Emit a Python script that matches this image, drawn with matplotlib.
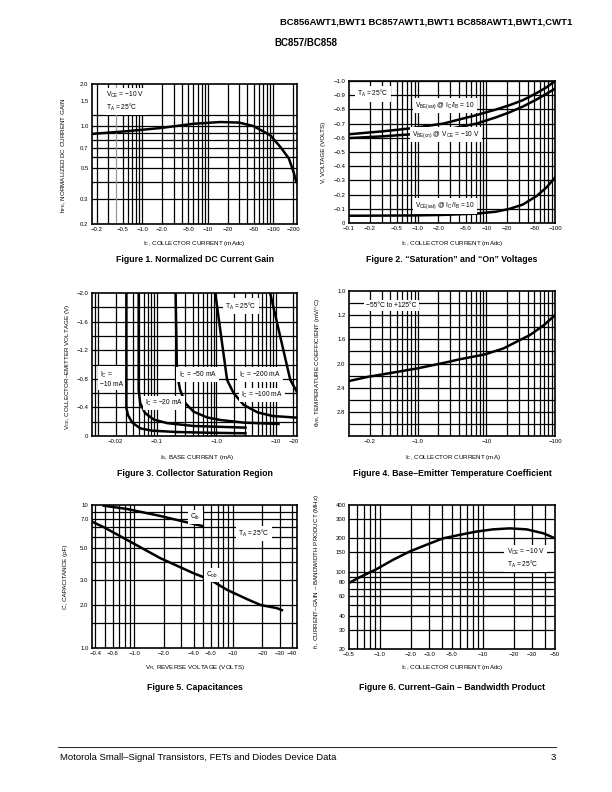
import matplotlib
matplotlib.use('Agg')
import matplotlib.pyplot as plt
from matplotlib.ticker import NullFormatter

plt.rcParams['font.family'] = ['Liberation Sans', 'DejaVu Sans']
plt.rcParams['mathtext.fontset'] = 'custom'
plt.rcParams['mathtext.rm'] = 'Liberation Sans'
plt.rcParams['mathtext.it'] = 'Liberation Sans:italic'
plt.rcParams['mathtext.bf'] = 'Liberation Sans:bold'

M = '\u2212'

# ---- Figure 1: normalized DC current gain (IC magnitude in mA)
f1_ic = [0.17, 0.58, 1.9, 6.1, 15.5, 30, 50, 90, 128, 172, 204, 224]
f1_hfe = [0.88, 0.92, 0.97, 1.04, 1.07, 1.06, 1.0, 0.86, 0.71, 0.59, 0.47, 0.40]
f1_xticks = [0.2, 0.5, 1, 2, 5, 10, 20, 50, 100, 200]
f1_xlabels = [M + s for s in ['0.2', '0.5', '1.0', '2.0', '5.0', '10', '20', '50', '100', '200']]
f1_yticks = [0.2, 0.3, 0.5, 0.7, 1.0, 1.5, 2.0]
f1_ylabels = ['0.2', '0.3', '0.5', '0.7', '1.0', '1.5', '2.0']

# ---- Figure 2: saturation and on voltages (magnitudes, volts)
f2_ic = [0.1, 0.3, 0.77, 2.35, 7.2, 14, 21.9, 34, 54, 75, 100]
f2_vbe_sat = [0.625, 0.645, 0.666, 0.70, 0.76, 0.80, 0.83, 0.865, 0.915, 0.955, 1.0]
f2_vbe_on = [0.598, 0.61, 0.624, 0.654, 0.70, 0.745, 0.78, 0.82, 0.87, 0.91, 0.946]
f2_vce_sat = [0.051, 0.052, 0.053, 0.057, 0.066, 0.08, 0.10, 0.13, 0.19, 0.25, 0.32]
f2_xticks = [0.1, 0.2, 0.5, 1, 2, 5, 10, 20, 50, 100]
f2_xlabels = [M + s for s in ['0.1', '0.2', '0.5', '1.0', '2.0', '5.0', '10', '20', '50', '100']]
f2_yticks = [0, 0.1, 0.2, 0.3, 0.4, 0.5, 0.6, 0.7, 0.8, 0.9, 1.0]
f2_ylabels = ['0'] + [M + s for s in ['0.1', '0.2', '0.3', '0.4', '0.5', '0.6', '0.7', '0.8', '0.9', '1.0']]

# ---- Figure 3: collector saturation region (IB mA, VCE magnitude V)
f3_ib_10 = [0.0304, 0.0304, 0.0325, 0.038, 0.052, 0.082, 0.21, 0.79, 3.1]
f3_v_10 = [2.0, 0.39, 0.29, 0.19, 0.107, 0.075, 0.056, 0.045, 0.038]
f3_ib_20 = [0.049, 0.049, 0.052, 0.063, 0.088, 0.148, 0.415, 3.1]
f3_v_20 = [2.0, 0.645, 0.46, 0.32, 0.23, 0.18, 0.14, 0.117]
f3_ib_50 = [0.206, 0.217, 0.245, 0.30, 0.415, 0.70, 1.17, 2.9, 11.2]
f3_v_50 = [2.0, 0.88, 0.645, 0.46, 0.34, 0.26, 0.224, 0.187, 0.168]
f3_ib_100 = [0.96, 1.52, 1.96, 2.9, 4.99, 8.9, 22.5]
f3_v_100 = [2.0, 0.785, 0.60, 0.435, 0.33, 0.28, 0.257]
f3_ib_200 = [8.1, 12.0, 17.7, 22.5]
f3_v_200 = [2.0, 1.39, 0.785, 0.63]
f3_xticks = [0.02, 0.1, 1.0, 10, 20]
f3_xlabels = [M + s for s in ['0.02', '0.1', '1.0', '10', '20']]
f3_yticks = [0, 0.4, 0.8, 1.2, 1.6, 2.0]
f3_ylabels = ['0'] + [M + s for s in ['0.4', '0.8', '1.2', '1.6', '2.0']]

# ---- Figure 4: base-emitter temperature coefficient
f4_ic = [0.1, 0.19, 0.44, 1.0, 2.4, 4.1, 9.5, 17.8, 27.5, 43, 68, 100]
f4_tc = [2.29, 2.22, 2.15, 2.08, 1.99, 1.93, 1.85, 1.75, 1.64, 1.53, 1.37, 1.20]
f4_xticks = [0.2, 1, 10, 100]
f4_xlabels = [M + s for s in ['0.2', '1.0', '10', '100']]
f4_yticks = [0.8, 1.2, 1.6, 2.0, 2.4, 2.8]
f4_ylabels = ['1.0', '1.2', '1.6', '2.0', '2.4', '2.8']

# ---- Figure 5: capacitances
f5_vr_cib = [0.487, 0.84, 1.83, 4.86]
f5_cib = [9.89, 9.38, 8.38, 7.14]
f5_vr_cob = [0.37, 0.487, 0.84, 1.83, 4.0, 5.9, 8.75, 13.9, 19.1, 28.1, 31.6]
f5_cob = [7.65, 7.0, 5.7, 4.25, 3.33, 3.0, 2.55, 2.2, 2.0, 1.9, 1.84]
f5_xticks = [0.4, 0.6, 1, 2, 4, 6, 10, 20, 30, 40]
f5_xlabels = [M + s for s in ['0.4', '0.6', '1.0', '2.0', '4.0', '6.0', '10', '20', '30', '40']]
f5_yticks = [1, 2, 3, 5, 8, 10]
f5_ylabels = ['1.0', '2.0', '3.0', '5.0', '7.0', '10']

# ---- Figure 6: current-gain bandwidth product
f6_ic = [0.5, 0.635, 0.92, 1.34, 1.94, 2.83, 4.1, 5.95, 8.6, 12.5, 18.2, 26.5, 38.6, 50]
f6_ft = [79, 89, 105, 128, 152, 175, 200, 215, 230, 241, 246, 241, 222, 200]
f6_xticks = [0.5, 1, 2, 3, 5, 10, 20, 30, 50]
f6_xlabels = [M + s for s in ['0.5', '1.0', '2.0', '3.0', '5.0', '10', '20', '30', '50']]
f6_yticks = [20, 30, 40, 60, 80, 100, 150, 200, 300, 400]
f6_ylabels = ['20', '30', '40', '60', '80', '100', '150', '200', '300', '400']

W, H = 612, 792
fig = plt.figure(figsize=(W / 100, H / 100), dpi=100)


def px_axes(x0, y0, x1, y1):
    return fig.add_axes([x0 / W, 1 - y1 / H, (x1 - x0) / W, (y1 - y0) / H])


def ftext(x, y, s, **kw):
    fig.text(x / W, 1 - y / H, s, **kw)


def log_grid(lo, hi):
    vals = []
    for e in range(-3, 4):
        for k in range(1, 10):
            v = k * 10.0 ** e
            if lo < v < hi * 0.999:
                vals.append(v)
    return vals


def setup(ax, xlim, ylim, xticks, xlabels, yticks, ylabels, xgrid, ygrid, ylog=False):
    ax.set_xscale('log')
    if ylog:
        ax.set_yscale('log')
    ax.set_xlim(xlim)
    ax.set_ylim(ylim)
    ax.xaxis.remove_overlapping_locs = False
    ax.yaxis.remove_overlapping_locs = False
    ax.set_xticks(xticks, xlabels)
    ax.set_yticks(yticks, ylabels)
    ax.set_xticks(xgrid, minor=True)
    ax.set_yticks(ygrid, minor=True)
    ax.xaxis.set_minor_formatter(NullFormatter())
    ax.yaxis.set_minor_formatter(NullFormatter())
    ax.grid(False, which='major')
    ax.grid(True, which='minor', color='k', lw=0.9)
    ax.tick_params(which='both', length=0, labelsize=4.3, pad=2.5)
    for sp in ax.spines.values():
        sp.set_linewidth(1.2)


def box(ax, x, y, s, ha='center', va='center', fs=4.8):
    ax.text(x, y, s, transform=ax.transAxes, ha=ha, va=va, fontsize=fs,
            bbox=dict(facecolor='white', edgecolor='none', pad=1.6), zorder=5)


LW = 1.8

# Figure 1
ax1 = px_axes(92, 84, 297, 224)
xl = (0.17, 230)
g = [v for v in log_grid(*xl) if abs(v - 0.4) > 1e-9]
setup(ax1, xl, (0.2, 2.0), f1_xticks, f1_xlabels, f1_yticks, f1_ylabels, g,
      [0.3, 0.4, 0.5, 0.6, 0.7, 0.8, 0.9, 1.0, 1.2], ylog=True)
ax1.axvline(0.4, color='0.6', lw=0.9)
ax1.plot(f1_ic, f1_hfe, color='k', lw=LW, zorder=4)
box(ax1, 0.07, 0.955, 'V$_\\mathregular{CE}$ = ' + M + '10 V\nT$_\\mathregular{A}$ = 25°C', ha='left', va='top')

# Figure 2
ax2 = px_axes(349, 81, 555, 223)
setup(ax2, (0.1, 100), (0, 1.0), f2_xticks, f2_xlabels, f2_yticks, f2_ylabels,
      log_grid(0.1, 100), f2_yticks)
ax2.plot(f2_ic, f2_vbe_sat, color='k', lw=LW, zorder=4)
ax2.plot(f2_ic, f2_vbe_on, color='k', lw=LW, zorder=4)
ax2.plot(f2_ic, f2_vce_sat, color='k', lw=LW, zorder=4)
box(ax2, 0.04, 0.91, 'T$_\\mathregular{A}$ = 25°C', ha='left')
box(ax2, 0.465, 0.83, 'V$_\\mathregular{BE(sat)}$ @ I$_\\mathregular{C}$/I$_\\mathregular{B}$ = 10')
box(ax2, 0.47, 0.624, 'V$_\\mathregular{BE(on)}$ @ V$_\\mathregular{CE}$ = ' + M + '10 V')
box(ax2, 0.465, 0.12, 'V$_\\mathregular{CE(sat)}$ @ I$_\\mathregular{C}$/I$_\\mathregular{B}$ = 10')

# Figure 3
ax3 = px_axes(92, 293, 297, 436)
setup(ax3, (0.008, 23), (0, 2.0), f3_xticks, f3_xlabels, f3_yticks, f3_ylabels,
      log_grid(0.008, 23), [0.2 * i for i in range(1, 10)])
for xs, ys in [(f3_ib_10, f3_v_10), (f3_ib_20, f3_v_20), (f3_ib_50, f3_v_50),
               (f3_ib_100, f3_v_100), (f3_ib_200, f3_v_200)]:
    ax3.plot(xs, ys, color='k', lw=LW, zorder=4)
box(ax3, 0.728, 0.907, 'T$_\\mathregular{A}$ = 25°C')
box(ax3, 0.04, 0.40, 'I$_\\mathregular{C}$ =\n' + M + '10 mA', ha='left')
box(ax3, 0.35, 0.23, 'I$_\\mathregular{C}$ = ' + M + '20 mA')
box(ax3, 0.515, 0.428, 'I$_\\mathregular{C}$ = ' + M + '50 mA')
box(ax3, 0.821, 0.428, 'I$_\\mathregular{C}$ = ' + M + '200 mA')
box(ax3, 0.829, 0.287, 'I$_\\mathregular{C}$ = ' + M + '100 mA')

# Figure 4
ax4 = px_axes(349, 291, 555, 436)
setup(ax4, (0.1, 100), (3.2, 0.8), f4_xticks, f4_xlabels, f4_yticks, f4_ylabels,
      log_grid(0.1, 100), [0.8 + 0.2 * i for i in range(1, 12)])
ax4.plot(f4_ic, f4_tc, color='k', lw=LW, zorder=4)
box(ax4, 0.206, 0.90, M + '55°C to +125°C')

# Figure 5
ax5 = px_axes(92, 505, 297, 648)
setup(ax5, (0.37, 45), (1.0, 10), f5_xticks, f5_xlabels, f5_yticks, f5_ylabels,
      log_grid(0.37, 45), [1.5, 2, 3, 4, 5, 6, 7, 8, 9], ylog=True)
ax5.plot(f5_vr_cib, f5_cib, color='k', lw=LW, zorder=4)
ax5.plot(f5_vr_cob, f5_cob, color='k', lw=LW, zorder=4)
box(ax5, 0.504, 0.915, 'C$_\\mathregular{ib}$')
box(ax5, 0.789, 0.80, 'T$_\\mathregular{A}$ = 25°C')
box(ax5, 0.585, 0.51, 'C$_\\mathregular{ob}$')

# Figure 6
ax6 = px_axes(349, 505, 555, 649)
setup(ax6, (0.5, 50), (20, 400), f6_xticks, f6_xlabels, f6_yticks, f6_ylabels,
      log_grid(0.5, 50), [30, 40, 50, 60, 70, 80, 90, 100, 150, 200, 300], ylog=True)
ax6.plot(f6_ic, f6_ft, color='k', lw=LW, zorder=4)
box(ax6, 0.765, 0.63, 'V$_\\mathregular{CE}$ = ' + M + '10 V\nT$_\\mathregular{A}$ = 25°C', ha='left')

# axis titles
fs_lab = 4.5
ftext(64, 155, 'h$_\\mathregular{FE}$, NORMALIZED DC CURRENT GAIN', rotation=90, ha='center', va='center', fontsize=fs_lab)
ftext(323, 152, 'V, VOLTAGE (VOLTS)', rotation=90, ha='center', va='center', fontsize=fs_lab)
ftext(68, 367, 'V$_\\mathregular{CE}$, COLLECTOR' + '\u2013' + 'EMITTER VOLTAGE (V)', rotation=90, ha='center', va='center', fontsize=fs_lab)
ftext(317, 362, '\u03b8$_\\mathregular{VB}$, TEMPERATURE COEFFICIENT (mV/°C)', rotation=90, ha='center', va='center', fontsize=fs_lab)
ftext(66, 577, 'C, CAPACITANCE (pF)', rotation=90, ha='center', va='center', fontsize=fs_lab)
ftext(316, 571, 'f$_\\mathregular{T}$, CURRENT' + '\u2013' + 'GAIN ' + '\u2013' + ' BANDWIDTH PRODUCT (MHz)', rotation=90, ha='center', va='center', fontsize=fs_lab)

ftext(194, 243, 'I$_\\mathregular{C}$, COLLECTOR CURRENT (mAdc)', ha='center', va='center', fontsize=fs_lab)
ftext(452, 243, 'I$_\\mathregular{C}$, COLLECTOR CURRENT (mAdc)', ha='center', va='center', fontsize=fs_lab)
ftext(197, 457, 'I$_\\mathregular{B}$, BASE CURRENT (mA)', ha='center', va='center', fontsize=fs_lab)
ftext(453, 457, 'I$_\\mathregular{C}$, COLLECTOR CURRENT (mA)', ha='center', va='center', fontsize=fs_lab)
ftext(195, 667, 'V$_\\mathregular{R}$, REVERSE VOLTAGE (VOLTS)', ha='center', va='center', fontsize=fs_lab)
ftext(452, 667, 'I$_\\mathregular{C}$, COLLECTOR CURRENT (mAdc)', ha='center', va='center', fontsize=fs_lab)

# captions
fs_cap = 6.3
ftext(195, 260, 'Figure 1. Normalized DC Current Gain', ha='center', va='center', fontsize=fs_cap, fontweight='bold')
ftext(452, 260, 'Figure 2. \u201cSaturation\u201d and \u201cOn\u201d Voltages', ha='center', va='center', fontsize=fs_cap, fontweight='bold')
ftext(195, 474, 'Figure 3. Collector Saturation Region', ha='center', va='center', fontsize=fs_cap, fontweight='bold')
ftext(452, 474, 'Figure 4. Base\u2013Emitter Temperature Coefficient', ha='center', va='center', fontsize=fs_cap, fontweight='bold')
ftext(195, 688, 'Figure 5. Capacitances', ha='center', va='center', fontsize=fs_cap, fontweight='bold')
ftext(452, 688, 'Figure 6. Current\u2013Gain \u2013 Bandwidth Product', ha='center', va='center', fontsize=fs_cap, fontweight='bold')

# page header / footer
ftext(572, 22, 'BC856AWT1,BWT1 BC857AWT1,BWT1 BC858AWT1,BWT1,CWT1', ha='right', va='center', fontsize=6.8, fontweight='heavy')
ftext(306, 43, 'BC857/BC858', ha='center', va='center', fontsize=7, fontweight='bold')
fig.add_artist(plt.Line2D([58 / W, 556 / W], [1 - 747 / H, 1 - 747 / H], color='k', lw=0.6))
ftext(60, 757, 'Motorola Small\u2013Signal Transistors, FETs and Diodes Device Data', ha='left', va='center', fontsize=6.8)
ftext(556, 757, '3', ha='right', va='center', fontsize=6.8)

fig.savefig('out.png', dpi=100)
